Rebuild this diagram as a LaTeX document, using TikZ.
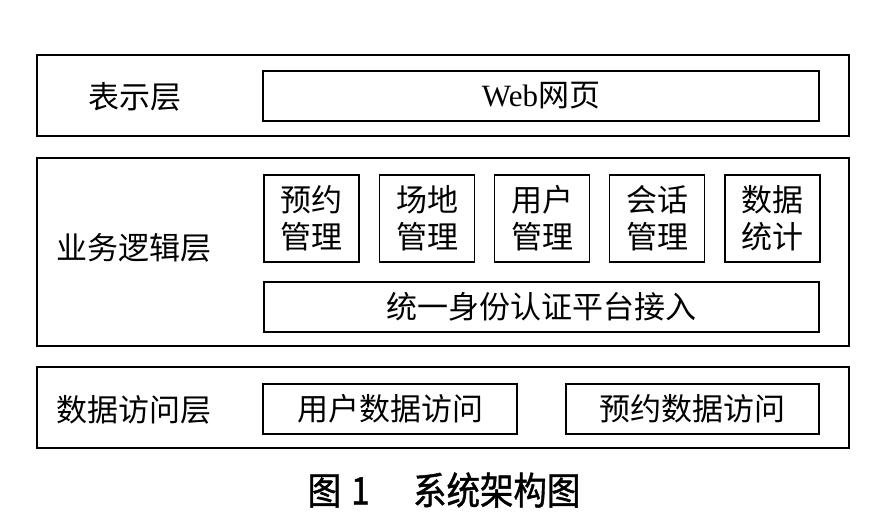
\documentclass[tikz,border=0pt]{standalone}
\usepackage{fontspec}
\setmainfont{Noto Sans CJK SC}
\newfontfamily\latfont{Liberation Serif}
\newfontfamily\capfont[FakeBold=1.2]{Noto Sans CJK SC}
\begin{document}
\begin{tikzpicture}[x=1pt,y=-1pt,
  frame/.style={draw, line width=1.6pt, inner sep=0pt, rectangle},
  txt/.style={font=\fontsize{31}{37}\selectfont, align=center},
  lbl/.style={font=\fontsize{31}{37}\selectfont, inner sep=0pt},
  captionstyle/.style={font=\capfont\fontsize{38}{44}\selectfont, inner sep=0pt}]
\useasboundingbox[fill=white] (0,0) rectangle (873,517);
% layer frames
\node[frame, minimum width=812pt, minimum height=81pt] (l1) at (443,95.5) {};
\node[frame, minimum width=812pt, minimum height=188pt] (l2) at (443,252) {};
\node[frame, minimum width=812pt, minimum height=81pt] (l3) at (443,407.5) {};
% layer labels
\node[lbl] (t1) at (135,97) {表示层};
\node[lbl] (t2) at (134,248) {业务逻辑层};
\node[lbl] (t3) at (134,410) {数据访问层};
% presentation
\node[frame, txt, minimum width=556pt, minimum height=50pt] (web) at (541,96) {{\latfont Web}网页};
% business boxes
\node[frame, txt, minimum width=95pt, minimum height=87pt] (b1) at (311.5,218.5) {预约\\管理};
\node[frame, txt, minimum width=95pt, minimum height=87pt] (b2) at (427,218.5) {场地\\管理};
\node[frame, txt, minimum width=95pt, minimum height=87pt] (b3) at (542,218.5) {用户\\管理};
\node[frame, txt, minimum width=95pt, minimum height=87pt] (b4) at (657,218.5) {会话\\管理};
\node[frame, txt, minimum width=95pt, minimum height=87pt] (b5) at (772.5,218.5) {数据\\统计};
\node[frame, txt, minimum width=555pt, minimum height=50pt] (uni) at (541.5,307) {统一身份认证平台接入};
% data access
\node[frame, txt, minimum width=254pt, minimum height=50pt] (uda) at (390,409) {用户数据访问};
\node[frame, txt, minimum width=253pt, minimum height=50pt] (rda) at (692.5,409) {预约数据访问};
% caption
\node[captionstyle] (caption) at (444,490) {\scalebox{0.88}[1]{图\hspace{0.3em}1\hspace{1.3em}系统架构图}};
\end{tikzpicture}
\end{document}
